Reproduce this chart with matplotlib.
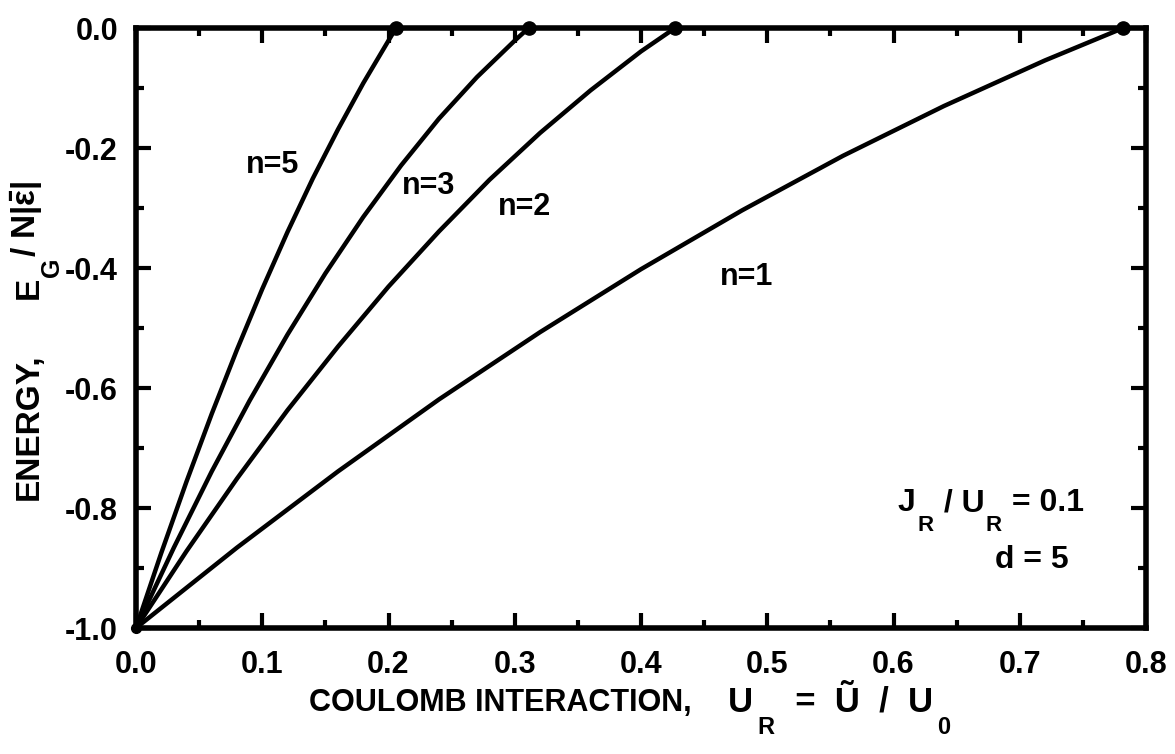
import matplotlib
matplotlib.use("Agg")
import matplotlib.pyplot as plt

plt.rcParams['font.family'] = ['Liberation Sans', 'DejaVu Sans']
plt.rcParams['font.weight'] = 'bold'
plt.rcParams['axes.unicode_minus'] = False
plt.rcParams['mathtext.fontset'] = 'custom'
plt.rcParams['mathtext.rm'] = 'Liberation Sans:bold'
plt.rcParams['mathtext.it'] = 'Liberation Sans:bold'
plt.rcParams['mathtext.bf'] = 'Liberation Sans:bold'

# ground state energy vs. Coulomb interaction
u_n1 = [0.0, 0.08, 0.16, 0.24, 0.32, 0.40, 0.48, 0.56, 0.64, 0.72, 0.782]
e_n1 = [-1.0, -0.866, -0.739, -0.619, -0.507, -0.402, -0.304, -0.213, -0.130, -0.054, 0.0]
u_n2 = [0.0, 0.04, 0.08, 0.12, 0.16, 0.20, 0.24, 0.28, 0.32, 0.36, 0.40, 0.427]
e_n2 = [-1.0, -0.872, -0.751, -0.637, -0.531, -0.431, -0.339, -0.253, -0.175, -0.104, -0.039, 0.0]
u_n3 = [0.0, 0.03, 0.06, 0.09, 0.12, 0.15, 0.18, 0.21, 0.24, 0.27, 0.30, 0.311]
e_n3 = [-1.0, -0.866, -0.739, -0.621, -0.511, -0.409, -0.315, -0.229, -0.151, -0.082, -0.021, 0.0]
u_n5 = [0.0, 0.02, 0.04, 0.06, 0.08, 0.10, 0.12, 0.14, 0.16, 0.18, 0.20, 0.206]
e_n5 = [-1.0, -0.875, -0.756, -0.643, -0.536, -0.435, -0.340, -0.251, -0.169, -0.092, -0.021, 0.0]
u_crit = [0.782, 0.427, 0.311, 0.206]

curve_names = ['n=1', 'n=2', 'n=3', 'n=5']
x_ticks = [0.0, 0.1, 0.2, 0.3, 0.4, 0.5, 0.6, 0.7, 0.8]
y_ticks = [-1.0, -0.8, -0.6, -0.4, -0.2, 0.0]

W, H = 1175, 754
fig = plt.figure(figsize=(W / 100, H / 100), dpi=100)
ax = fig.add_axes([136 / W, 1 - 628 / H, 1010 / W, 600 / H])

for u, e in [(u_n1, e_n1), (u_n2, e_n2), (u_n3, e_n3), (u_n5, e_n5)]:
    ax.plot(u, e, color='black', lw=3.2, solid_capstyle='round', solid_joinstyle='round')
ax.plot(u_crit, [0.0] * len(u_crit), 'o', color='black', ms=9.5, clip_on=False, zorder=5)
ax.plot([0.0], [-1.0], 'o', color='black', ms=7, clip_on=False, zorder=5)

# curve labels
label_pos = [(0.484, -0.415), (0.308, -0.298), (0.232, -0.263), (0.108, -0.228)]
for name, (lx, ly) in zip(curve_names, label_pos):
    ax.text(lx, ly, name, fontsize=22, ha='center', va='center')

ax.set_xlim(0, 0.8)
ax.set_ylim(-1, 0)
ax.set_xticks(x_ticks)
ax.set_xticklabels([f"{v:.1f}" for v in x_ticks])
ax.set_yticks(y_ticks)
ax.set_yticklabels([f"{v:.1f}" for v in y_ticks])
ax.set_xticks([0.05, 0.15, 0.25, 0.35, 0.45, 0.55, 0.65, 0.75], minor=True)
ax.set_yticks([-0.9, -0.7, -0.5, -0.3, -0.1], minor=True)
ax.tick_params(which='both', direction='in', top=True, right=True, width=3)
ax.tick_params(which='major', length=11, labelsize=22)
ax.tick_params(axis='x', which='major', pad=16)
ax.tick_params(axis='y', which='major', pad=13)
ax.tick_params(which='minor', length=6)
for sp in ax.spines.values():
    sp.set_linewidth(4)


def chained(x, y, parts, sizes, vertical=False, drop=2, gap=1):
    # parts alternate normal text / subscript, each placed after the previous
    rot = 90 if vertical else 0
    first = fig.text(x / W, 1 - y / H, parts[0], fontsize=sizes[0], rotation=rot,
                     ha='right' if vertical else 'left', va='bottom')
    base, prev = first, first
    for i, s in enumerate(parts[1:]):
        is_sub = i % 2 == 0
        if vertical:
            coords, xy = (base, prev), (1, 1)
            if is_sub:
                kw = dict(ha='left', va='bottom', xytext=(drop, 0))
            else:
                kw = dict(ha='right', va='bottom', xytext=(0, 0))
        else:
            coords, xy = (prev, base), (1, 0)
            if is_sub:
                kw = dict(ha='left', va='top', xytext=(gap, drop))
            else:
                kw = dict(ha='left', va='bottom', xytext=(1, 0))
        prev = ax.annotate(s, xy=xy, xycoords=coords, textcoords='offset points',
                           fontsize=sizes[i + 1], rotation=rot,
                           annotation_clip=False, **kw)
        if not is_sub:
            base = prev


# x label
fig.text(309 / W, 1 - 718 / H, 'COULOMB INTERACTION,', fontsize=22, ha='left', va='bottom')
chained(728, 719, ['U', 'R', '  =  \u0168  /  U', '0'], [25, 17, 25, 17], gap=3)
# y label
fig.text(45 / W, 1 - 500 / H, 'ENERGY,', fontsize=24, rotation=90, ha='right', va='bottom')
chained(45, 299, ['E', 'G', r'/ N|$\bar{\varepsilon}$|'], [24, 18, 24],
        vertical=True, drop=-3.5)
# parameters
chained(898, 518, ['J', 'R', ' / U', 'R', ' = 0.1'], [23, 16, 23, 16, 23])
fig.text(995 / W, 1 - 568 / H, 'd = 5', fontsize=23, ha='left', va='baseline')

fig.savefig('out.png', dpi=100)
